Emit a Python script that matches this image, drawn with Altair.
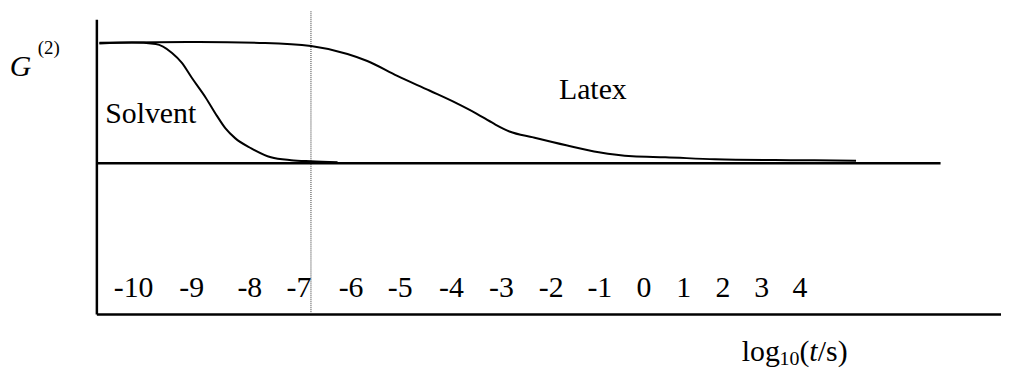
import altair as alt
import pandas as pd

# ---------------- data ----------------
tick_values = [-10, -9, -8, -7, -6, -5, -4, -3, -2, -1, 0, 1, 2, 3, 4]

solvent_logt = [-10.58, -10.02, -9.61, -9.33, -9.16, -8.99, -8.75, -8.56,
                -8.41, -8.24, -7.96, -7.56, -7.15, -6.76, -6.25]
solvent_g2 = [1.988, 1.996, 1.984, 1.91, 1.828, 1.705, 1.541, 1.393,
              1.287, 1.205, 1.123, 1.049, 1.025, 1.016, 1.008]

latex_logt = [-10.58, -8.87, -7.68, -6.76, -6.06, -5.66, -5.05, -4.41, -3.88,
              -3.49, -3.15, -2.83, -2.35, -1.68, -1.01, -0.25, 0.55, 1.81,
              3.87, 5.48]
latex_g2 = [1.994, 2.0, 1.992, 1.967, 1.902, 1.844, 1.721, 1.598, 1.494,
            1.410, 1.328, 1.262, 1.213, 1.148, 1.090, 1.057, 1.049, 1.033,
            1.025, 1.021]

baseline_g2 = 1.0
baseline_logt_span = [-10.632, 7.69]
marker_logt = -6.76
marker_g2_span = [-0.23, 2.254]

FONT = "'Liberation Serif', 'Times New Roman', 'DejaVu Serif', serif"

# ---------------- scales & axes ----------------
# the hand-drawn axis has uneven spacing between decades -> piecewise scale
x_domain = [-10.632] + tick_values + [9.27]
x_range = [0, 37, 95.5, 154, 203.5, 256, 305.5, 357, 407.5, 457.5, 506.5,
           551, 591, 630.5, 669.5, 708, 911]
xs = alt.Scale(domain=x_domain, range=x_range, nice=False, zero=False)
ys = alt.Scale(domain=[-0.246, 2.189], nice=False, zero=False)

xaxis = alt.Axis(values=tick_values, ticks=False, grid=False,
                 domainColor="black", domainWidth=2.5,
                 labelFont=FONT, labelFontSize=30, labelColor="black",
                 labelBaseline="alphabetic", labelPadding=-18,
                 labelOverlap=False, labelFlush=False, labelBound=False,
                 labelExpr="'' + datum.value")
yaxis = alt.Axis(labels=False, ticks=False, grid=False,
                 domainColor="black", domainWidth=2.5)


def X(f):
    return alt.X(f"{f}:Q", scale=xs, axis=xaxis, title=None)


def Y(f):
    return alt.Y(f"{f}:Q", scale=ys, axis=yaxis, title=None)


# ---------------- layers ----------------
df_s = pd.DataFrame({"logt": solvent_logt, "g2": solvent_g2})
df_l = pd.DataFrame({"logt": latex_logt, "g2": latex_g2})

solvent = alt.Chart(df_s).mark_line(color="black", strokeWidth=2,
                                    interpolate="monotone").encode(
    x=X("logt"), y=Y("g2"))
latex = alt.Chart(df_l).mark_line(color="black", strokeWidth=2,
                                  interpolate="monotone").encode(
    x=X("logt"), y=Y("g2"))

base_df = pd.DataFrame({"x0": [baseline_logt_span[0]],
                        "x1": [baseline_logt_span[1]],
                        "g2": [baseline_g2]})
baseline = alt.Chart(base_df).mark_rule(color="black", strokeWidth=2.5).encode(
    x=X("x0"), x2=alt.X2("x1"), y=Y("g2"))

mark_df = pd.DataFrame({"logt": [marker_logt],
                        "y0": [marker_g2_span[0]],
                        "y1": [marker_g2_span[1]]})
marker = alt.Chart(mark_df).mark_rule(color="#333333", strokeWidth=1,
                                      strokeDash=[1, 1]).encode(
    x=X("logt"), y=Y("y0"), y2=alt.Y2("y1"))

# text annotations (positions in data units)
txt_normal = pd.DataFrame({
    "x": [-10.48, -1.83, 2.5, 4.0, 4.48],
    "y": [1.336, 1.533, -0.631, -0.631, -0.631],
    "t": ["Solvent", "Latex", "log", "(", "/s)"],
})
txt_italic = pd.DataFrame({
    "x": [-12.12, 4.26],
    "y": [1.721, -0.631],
    "t": ["G", "t"],
})
txt_sup = pd.DataFrame({"x": [-11.64], "y": [1.902], "t": ["(2)"]})
txt_sub = pd.DataFrame({"x": [3.48], "y": [-0.664], "t": ["10"]})


def text_layer(df, size, style="normal"):
    return alt.Chart(df).mark_text(font=FONT, fontSize=size, fontStyle=style,
                                   align="left", baseline="alphabetic",
                                   color="black").encode(
        x=X("x"), y=Y("y"), text="t:N")


chart = alt.layer(
    marker, baseline, solvent, latex,
    text_layer(txt_normal, 30),
    text_layer(txt_italic, 30, "italic"),
    text_layer(txt_sup, 19),
    text_layer(txt_sub, 20),
).properties(
    width=911, height=297,
    autosize=alt.AutoSizeParams(type="none"),
    padding={"left": 89, "top": 10, "right": 0, "bottom": 54},
    background="white",
).configure_view(strokeWidth=0)

chart.save("out.html", embed_options={"renderer": "svg", "actions": False})
